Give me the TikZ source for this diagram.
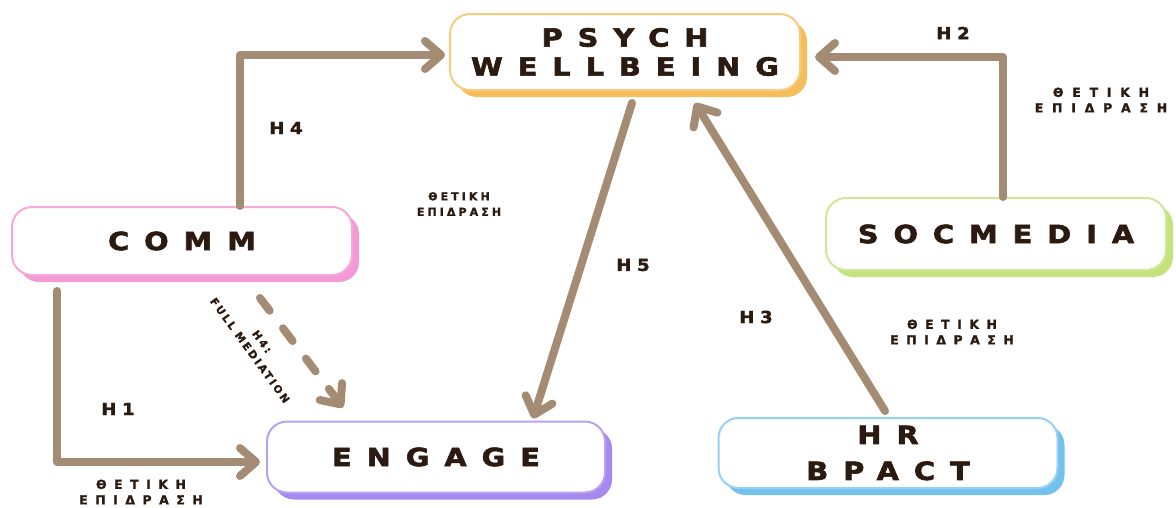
\documentclass[tikz,border=0pt]{standalone}
\usepackage{fontspec}
\setmainfont{DejaVu Sans}
\usetikzlibrary{arrows.meta,shadows}
\definecolor{arrowc}{HTML}{A38C73}
\definecolor{txt}{HTML}{2A1A10}
\definecolor{orB}{HTML}{F9CB7E}\definecolor{orS}{HTML}{F6BE5A}
\definecolor{pkB}{HTML}{F5A9DA}\definecolor{pkS}{HTML}{F19AD3}
\definecolor{grB}{HTML}{CFE895}\definecolor{grS}{HTML}{C3E37F}
\definecolor{puB}{HTML}{B8A0F3}\definecolor{puS}{HTML}{A689EE}
\definecolor{blB}{HTML}{93D2F4}\definecolor{blS}{HTML}{74C0EE}
\newfontface\bigf[LetterSpace=60,FakeBold=2.5,FakeStretch=1.15]{DejaVu Sans Bold}
\newfontface\hf[LetterSpace=34,FakeBold=2,FakeStretch=1.1]{DejaVu Sans Bold}
\newfontface\gwide[LetterSpace=70,FakeBold=1.5]{DejaVu Sans Bold}
\newfontface\gnarrow[LetterSpace=28,FakeBold=1.5]{DejaVu Sans Bold}
\newfontface\gmid[LetterSpace=60,FakeBold=1.5]{DejaVu Sans Bold}
\newfontface\medf[LetterSpace=22,FakeBold=1.5]{DejaVu Sans Bold}
\tikzset{
  box/.style 2 args={draw=#1, fill=white, line width=2pt, rounded corners=20pt,
    general shadow={fill=#2, shadow xshift=7pt, shadow yshift=-7pt},
    inner sep=0pt, text=txt, align=center, font=\bigf\fontsize{25}{29}\selectfont},
  arr/.style={draw=arrowc, line width=8pt, line cap=round, line join=round,
    -{Straight Barb[round, length=16pt, width=28pt]}},
  hlab/.style={text=txt, font=\hf\fontsize{16.5}{18}\selectfont, inner sep=0pt},
  gw/.style={text=txt, align=center, inner sep=0pt, font=\gwide\fontsize{12.5}{15.5}\selectfont},
  gm/.style={text=txt, align=center, inner sep=0pt, font=\gmid\fontsize{12.5}{15.5}\selectfont},
  gn/.style={text=txt, align=center, inner sep=0pt, font=\gnarrow\fontsize{11}{15.5}\selectfont},
}
\begin{document}
\begin{tikzpicture}[x=1pt,y=1pt]
\useasboundingbox (0,0) rectangle (1176,-507);
\node[box={orB}{orS}, minimum width=350pt, minimum height=76pt] (psych) at (625,-52) {PSYCH\\WELLBEING};
\node[box={pkB}{pkS}, minimum width=340pt, minimum height=68pt] (comm) at (182,-241) {COMM};
\node[box={grB}{grS}, minimum width=340pt, minimum height=72pt] (soc) at (996,-234) {SOCMEDIA};
\node[box={puB}{puS}, minimum width=338pt, minimum height=71pt] (engage) at (436,-457) {ENGAGE};
\node[box={blB}{blS}, minimum width=339pt, minimum height=70pt] (hr) at (888,-453) {HR\\[7pt]BPACT};

\draw[arr] ([xshift=58pt]comm.north) |- ([xshift=-4pt,yshift=-3pt]psych.west);
\draw[arr] ([xshift=7pt]soc.north) |- ([xshift=14pt,yshift=-5pt]psych.east);
\draw[arr] ([xshift=7pt,yshift=-12pt]psych.south) -- ([xshift=97pt,yshift=2pt]engage.north);
\draw[arr] ([xshift=-3pt,yshift=6pt]hr.north) -- ([xshift=70pt,yshift=-12pt]psych.south);
\draw[arr] ([xshift=-125pt,yshift=-15pt]comm.south) |- ([xshift=-6pt,yshift=-5pt]engage.west);
\draw[arr, dash pattern=on 16pt off 22pt] ([xshift=78pt,yshift=-22pt]comm.south) -- ([xshift=-93pt,yshift=13pt]engage.north);

\node[hlab] (h4) at (286,-128) {H4};
\node[hlab] (h2) at (953,-33) {H2};
\node[hlab] (h5) at (633,-265) {H5};
\node[hlab] (h3) at (756,-317) {H3};
\node[hlab] (h1) at (118,-409) {H1};

\node[gn] (g5) at (459,-204) {ΘΕΤΙΚΗ\\ΕΠΙΔΡΑΣΗ};
\node[gw] (g2) at (1101,-100) {ΘΕΤΙΚΗ\\ΕΠΙΔΡΑΣΗ};
\node[gm] (g3) at (952,-332) {ΘΕΤΙΚΗ\\ΕΠΙΔΡΑΣΗ};
\node[gm] (g1) at (141,-492) {ΘΕΤΙΚΗ\\ΕΠΙΔΡΑΣΗ};

\node[text=txt, align=center, inner sep=0pt, rotate=-54, font=\medf\fontsize{10.5}{15}\selectfont] (med) at (256,-346) {H4:\\FULL MEDIATION};
\end{tikzpicture}
\end{document}
